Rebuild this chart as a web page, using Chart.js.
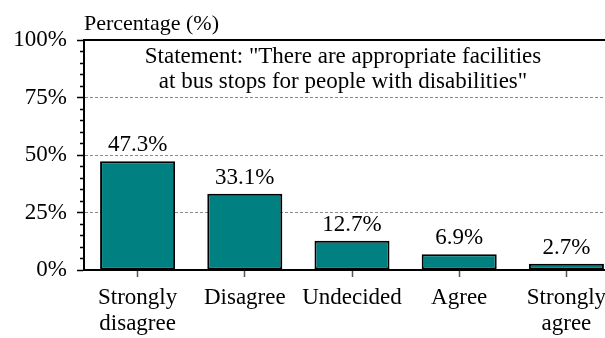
<!DOCTYPE html>
<html lang="en">
<head>
  <meta charset="UTF-8" />
  <title>Bus stop facilities survey</title>
  <script src="https://cdn.jsdelivr.net/npm/chart.js"></script>
  <style>
    html, body { margin: 0; padding: 0; background: #fff; overflow: hidden; }
    .chart-wrapper { position: relative; width: 620px; height: 338px; }
  </style>
</head>
<body>

<div class="chart-wrapper">
  <canvas id="surveyChart"></canvas>
</div>

<script>
  // answers to the statement
  const categories = [['Strongly', 'disagree'], 'Disagree', 'Undecided', 'Agree', ['Strongly', 'agree']];
  const shares = [47.3, 33.1, 12.7, 6.9, 2.7];
  const yTicks = [0, 25, 50, 75, 100];
  const statementLines = ['Statement: "There are appropriate facilities', 'at bus stops for people with disabilities"'];
  const axisTitle = 'Percentage (%)';

  const FONT = '"Liberation Serif", "Times New Roman", serif';

  const textPlugin = {
    id: 'textPlugin',
    afterDatasetsDraw(chart) {
      const { ctx, chartArea } = chart;
      ctx.save();
      ctx.fillStyle = '#000';
      ctx.font = '23px ' + FONT;

      // value above each bar
      ctx.textAlign = 'center';
      ctx.textBaseline = 'alphabetic';
      chart.getDatasetMeta(0).data.forEach((bar, i) => {
        ctx.fillText(shares[i].toFixed(1) + '%', bar.x, bar.y - 10);
      });

      // statement inside the plot
      const cx = 343;
      statementLines.forEach((line, i) => {
        ctx.fillText(line, cx, chartArea.top + 23 + i * 25);
      });

      // axis title
      ctx.font = '22px ' + FONT;
      ctx.textAlign = 'left';
      ctx.fillText(axisTitle, 84, 30);
      ctx.restore();
    }
  };

  new Chart(document.getElementById('surveyChart'), {
    type: 'bar',
    data: {
      labels: categories,
      datasets: [{
        data: shares,
        backgroundColor: '#008080',
        borderColor: '#000',
        borderWidth: 2,
        borderSkipped: false,
        barPercentage: 0.70,
        categoryPercentage: 1.0
      }]
    },
    options: {
      responsive: true,
      maintainAspectRatio: false,
      animation: false,
      layout: { padding: 0 },
      plugins: {
        legend: { display: false },
        tooltip: { enabled: false }
      },
      scales: {
        x: {
          position: 'bottom',
          afterFit: s => { s.height = 68; },
          border: { color: '#000', width: 2 },
          grid: {
            offset: false,
            drawOnChartArea: false,
            tickLength: 7,
            tickColor: '#555',
            tickWidth: 1.5
          },
          ticks: {
            color: '#000',
            padding: 8,
            font: { family: FONT, size: 23, lineHeight: 1.13 },
            maxRotation: 0,
            autoSkip: false
          }
        },
        xTop: {
          position: 'top',
          type: 'category',
          afterFit: s => { s.height = 40; },
          border: { color: '#000', width: 2 },
          grid: { display: false, drawTicks: false },
          ticks: { display: false }
        },
        y: {
          min: 0,
          max: 100,
          afterFit: s => { s.width = 84; },
          afterBuildTicks: s => {
            // major ticks at yTicks, minor every 5
            const t = [];
            for (let v = 0; v <= 100; v += 5) t.push({ value: v });
            s.ticks = t;
          },
          border: { color: '#000', width: 2, dash: [3, 2] },
          grid: {
            color: c => (c.tick && [25, 50, 75].includes(c.tick.value)) ? '#8a8a8a' : 'rgba(0,0,0,0)',
            lineWidth: 1,
            tickLength: 7,
            tickColor: '#000',
            tickWidth: 1.5,
            tickBorderDash: c => (c.tick && yTicks.includes(c.tick.value)) ? [] : [0, 3, 4]
          },
          ticks: {
            color: '#000',
            padding: 10,
            autoSkip: false,
            font: { family: FONT, size: 23 },
            callback: v => yTicks.includes(v) ? v + '%' : ''
          }
        }
      }
    },
    plugins: [textPlugin]
  });
</script>
</body>
</html>
